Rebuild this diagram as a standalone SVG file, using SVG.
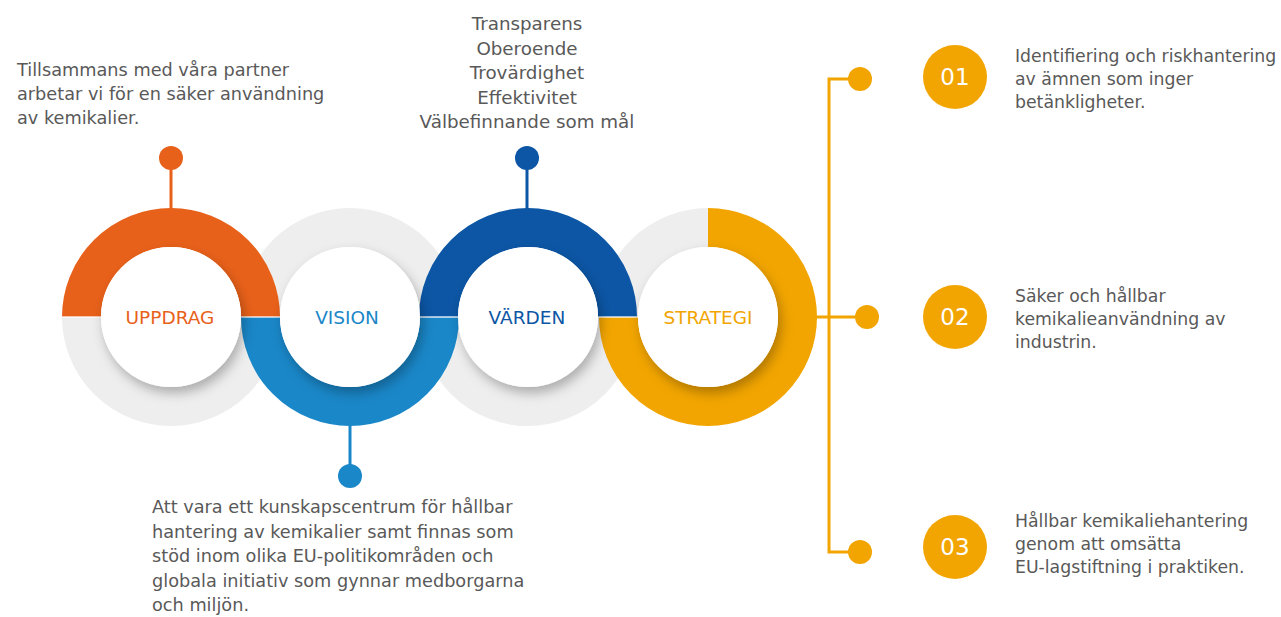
<svg xmlns="http://www.w3.org/2000/svg" width="1281" height="617" viewBox="0 0 1281 617">
  <defs>
    <filter id="sh" x="-40%" y="-40%" width="180%" height="180%">
      <feDropShadow dx="3" dy="6" stdDeviation="6" flood-color="#000" flood-opacity="0.28"/>
    </filter>
  </defs>
  <style>
    .track { fill: none; stroke: #eeeeee; stroke-width: 39; }
    .arc { fill: none; stroke-width: 39; }
    .hole { fill: #ffffff; filter: url(#sh); }
    .lbl { font-family: "DejaVu Sans", Verdana, sans-serif; font-size: 18.5px; text-anchor: middle; }
    .txt { font-family: "DejaVu Sans", Verdana, sans-serif; fill: #595959; }
    .num { font-family: "DejaVu Sans", Verdana, sans-serif; font-size: 23px; fill: #ffffff; text-anchor: middle; }
    .pin { fill: none; stroke-width: 3; }
    .org { stroke: #e8611a; } .blu { stroke: #1a87c8; } .dbl { stroke: #0c56a5; } .yel { stroke: #f2a500; }
  </style>
  <rect width="1281" height="617" fill="#ffffff"/>

  <!-- grey tracks behind all coloured arcs -->
  <g id="tracks">
    <path class="track" d="M 81.5 317 A 89.5 89.5 0 0 0 260.5 317"/>
    <path class="track" d="M 260.5 317 A 89.5 89.5 0 0 1 439.5 317"/>
    <path class="track" d="M 438.5 317 A 89.5 89.5 0 0 0 617.5 317"/>
    <path class="track" d="M 618.5 317 A 89.5 89.5 0 0 1 708 227.5"/>
  </g>

  <!-- connectors -->
  <g id="connectors">
    <line class="pin org" x1="171" y1="166" x2="171" y2="209"/>
    <circle cx="171" cy="158" r="12" fill="#e8611a"/>
    <line class="pin blu" x1="350" y1="425" x2="350" y2="468"/>
    <circle cx="350" cy="476" r="12" fill="#1a87c8"/>
    <line class="pin dbl" x1="527" y1="166" x2="527" y2="209"/>
    <circle cx="527" cy="158" r="12" fill="#0c56a5"/>
    <line class="pin yel" x1="816" y1="317" x2="866" y2="317"/>
    <polyline class="pin yel" points="860,79 829,79 829,552 860,552"/>
    <circle cx="860" cy="79" r="12" fill="#f2a500"/>
    <circle cx="867" cy="317" r="12" fill="#f2a500"/>
    <circle cx="860" cy="552" r="12" fill="#f2a500"/>
  </g>

  <g id="node-uppdrag">
    <path class="arc org" d="M 81.5 317 A 89.5 89.5 0 0 1 260.5 317"/>
  </g>
  <g id="node-vision">
    <path class="arc blu" d="M 260.5 317 A 89.5 89.5 0 0 0 439.5 317"/>
  </g>
  <g id="node-varden">
    <path class="arc dbl" d="M 438.5 317 A 89.5 89.5 0 0 1 617.5 317"/>
  </g>
  <g id="node-strategi">
    <path class="arc yel" d="M 708 227.5 A 89.5 89.5 0 1 1 618.5 317"/>
  </g>

  <line x1="62" y1="317" x2="638" y2="317" stroke="#ffffff" stroke-width="1.3" opacity="0.85"/>

  <g id="centres">
    <circle class="hole" cx="171" cy="317" r="70"/>
    <text class="lbl" x="170" y="324" fill="#e8611a">UPPDRAG</text>
    <circle class="hole" cx="350" cy="317" r="70"/>
    <text class="lbl" x="347" y="324" fill="#1a87c8">VISION</text>
    <circle class="hole" cx="528" cy="317" r="70"/>
    <text class="lbl" x="527" y="324" fill="#0c56a5">VÄRDEN</text>
    <circle class="hole" cx="708" cy="317" r="70"/>
    <text class="lbl" x="708" y="324" fill="#f2a500">STRATEGI</text>
  </g>

  <g id="text-uppdrag" class="txt" font-size="17.7">
    <text x="17" y="76">Tillsammans med våra partner</text>
    <text x="17" y="100">arbetar vi för en säker användning</text>
    <text x="17" y="124">av kemikalier.</text>
  </g>

  <g id="text-varden" class="txt" font-size="18.3" text-anchor="middle">
    <text x="527" y="30">Transparens</text>
    <text x="527" y="54.5">Oberoende</text>
    <text x="527" y="79">Trovärdighet</text>
    <text x="527" y="103.5">Effektivitet</text>
    <text x="527" y="128">Välbefinnande som mål</text>
  </g>

  <g id="text-vision" class="txt" font-size="17.7">
    <text x="152" y="513">Att vara ett kunskapscentrum för hållbar</text>
    <text x="152" y="537.5">hantering av kemikalier samt finnas som</text>
    <text x="152" y="562">stöd inom olika EU-politikområden och</text>
    <text x="152" y="586.5">globala initiativ som gynnar medborgarna</text>
    <text x="152" y="611">och miljön.</text>
  </g>

  <g id="item-01">
    <circle cx="955" cy="77" r="32" fill="#f2a500"/>
    <text class="num" x="955" y="85">01</text>
    <g class="txt" font-size="17.3">
      <text x="1015" y="61.5">Identifiering och riskhantering</text>
      <text x="1015" y="84.5">av ämnen som inger</text>
      <text x="1015" y="107.5">betänkligheter.</text>
    </g>
  </g>

  <g id="item-02">
    <circle cx="955" cy="317" r="32" fill="#f2a500"/>
    <text class="num" x="955" y="325">02</text>
    <g class="txt" font-size="17.3">
      <text x="1015" y="302">Säker och hållbar</text>
      <text x="1015" y="325">kemikalieanvändning av</text>
      <text x="1015" y="348">industrin.</text>
    </g>
  </g>

  <g id="item-03">
    <circle cx="955" cy="547" r="32" fill="#f2a500"/>
    <text class="num" x="955" y="555">03</text>
    <g class="txt" font-size="17.3">
      <text x="1015" y="527">Hållbar kemikaliehantering</text>
      <text x="1015" y="550">genom att omsätta</text>
      <text x="1015" y="573">EU-lagstiftning i praktiken.</text>
    </g>
  </g>
</svg>
